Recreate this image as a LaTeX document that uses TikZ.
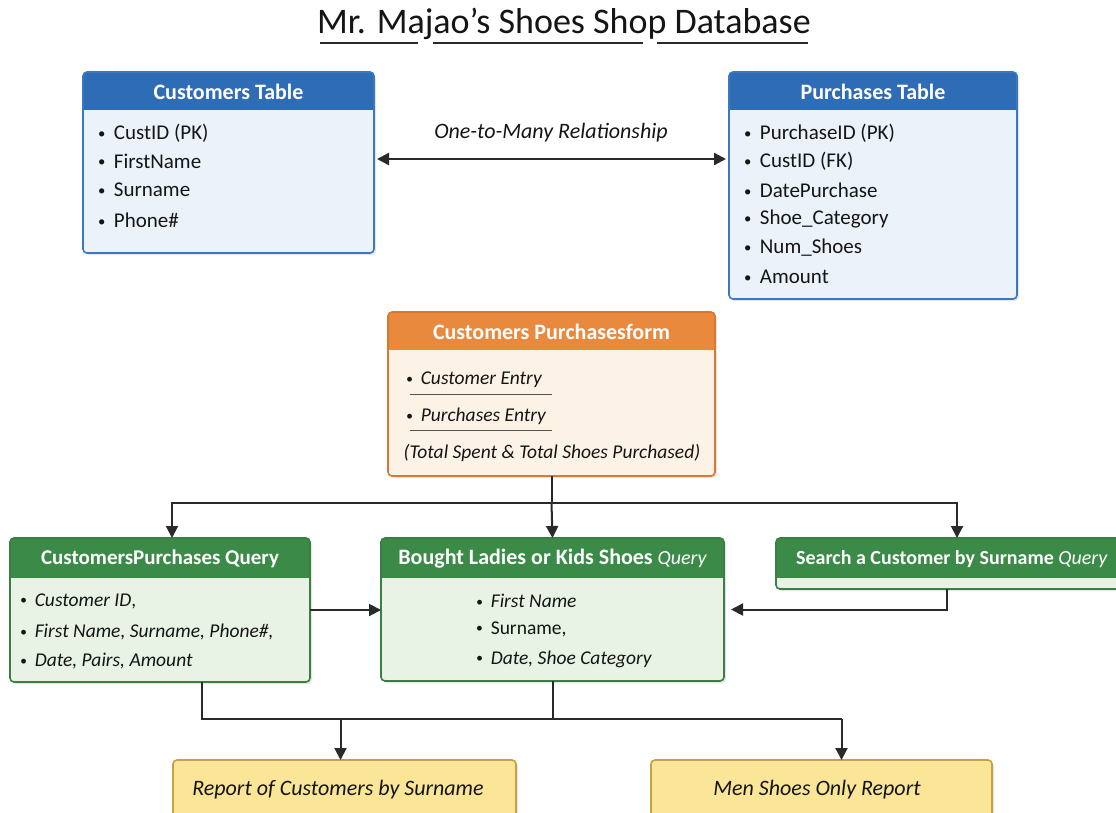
\documentclass[tikz,border=0pt]{standalone}
\usepackage{fontspec}
\usepackage{graphicx}
\setmainfont{Carlito}
\usetikzlibrary{arrows.meta,calc}
\definecolor{hblue}{HTML}{2F6CB6}
\definecolor{bblue}{HTML}{EBF2FA}
\definecolor{kblue}{HTML}{3C78C0}
\definecolor{horange}{HTML}{E8893E}
\definecolor{borange}{HTML}{FDF2E6}
\definecolor{korange}{HTML}{D47A33}
\definecolor{hgreen}{HTML}{3C8A48}
\definecolor{bgreen}{HTML}{E8F3E5}
\definecolor{kgreen}{HTML}{3A7E44}
\definecolor{byellow}{HTML}{FBE597}
\definecolor{kyellow}{HTML}{C6A142}
\definecolor{lineC}{HTML}{2A2A2A}
\definecolor{txt}{HTML}{151515}
\newcommand\bul{\raisebox{0.12ex}{\scalebox{0.7}{•}}\hspace{0.4em}}
\newcommand\tbox[9]{%
  \node[anchor=north west, minimum width=#4pt, minimum height=#5pt, inner sep=0pt, outer sep=0pt] (#1) at (#2,#3) {};
  \fill[black!10, rounded corners=4pt] ([shift={(2pt,-2pt)}]#1.north west) rectangle ([shift={(2pt,-2pt)}]#1.south east);
  \begin{scope}
    \clip[rounded corners=4pt] (#1.north west) rectangle (#1.south east);
    \fill[#8] (#1.north west) rectangle (#1.south east);
    \fill[#7] (#1.north west) rectangle ([yshift=-#6pt]#1.north east);
  \end{scope}
  \draw[#9, line width=1.6pt, rounded corners=4pt] (#1.north west) rectangle (#1.south east);
}
\tikzset{
  arr/.style={draw=lineC, line width=2pt, -{Triangle[length=12pt,width=12pt]}},
  darr/.style={draw=lineC, line width=2.4pt, {Triangle[length=12pt,width=12pt]}-{Triangle[length=12pt,width=12pt]}},
  ln/.style={draw=lineC, line width=2pt},
  itm/.style={anchor=west, inner sep=0pt, text=txt, font=\fontsize{21}{24}\selectfont},
  qitm/.style={anchor=west, inner sep=0pt, text=txt, font=\fontsize{19.5}{23}\selectfont\itshape},
  hd/.style={inner sep=0pt, text=white, font=\fontsize{22}{25}\selectfont\bfseries},
}
\begin{document}
\begin{tikzpicture}[x=1pt,y=-1pt]
\clip (0,0) rectangle (1116,812);
\fill[white] (0,0) rectangle (1116,812);

% title
\node[inner sep=0pt, text=txt, font=\fontsize{36}{40}\selectfont] (title) at (564,24) {Mr. Majao’s Shoes Shop Database};
\draw[lineC, line width=1.4pt] (320,43) -- (418,43) (433,43) -- (643,43) (657,43) -- (808,43);

% Customers table
\tbox{cust}{83}{72}{291}{181}{38}{hblue}{bblue}{kblue}
\node[hd] (custh) at ([yshift=-20pt]cust.north) {Customers Table};
\node[itm] (c1) at (98,133) {\bul CustID (PK)};
\node[itm] (c2) at (98,161) {\bul FirstName};
\node[itm] (c3) at (98,190) {\bul Surname};
\node[itm] (c4) at (98,220) {\bul Phone\#};

% Purchases table
\tbox{purch}{729}{72}{288}{227}{38}{hblue}{bblue}{kblue}
\node[hd] (purchh) at ([yshift=-20pt]purch.north) {Purchases Table};
\node[itm] (p1) at (744,133) {\bul PurchaseID (PK)};
\node[itm] (p2) at (744,161) {\bul CustID (FK)};
\node[itm] (p3) at (744,190) {\bul DatePurchase};
\node[itm] (p4) at (744,219) {\bul Shoe\_Category};
\node[itm] (p5) at (744,248) {\bul Num\_Shoes};
\node[itm] (p6) at (744,277) {\bul Amount};

% relationship
\draw[darr] ([shift={(3pt,-87pt)}]cust.north east) -- ([shift={(-3pt,-87pt)}]purch.north west);
\node[inner sep=0pt, text=txt, font=\fontsize{22}{25}\selectfont\itshape] (rel) at (551,133) {One-to-Many Relationship};

% Form
\tbox{form}{388}{312}{327}{164}{38}{horange}{borange}{korange}
\node[hd] (formh) at ([yshift=-20pt]form.north) {Customers Purchasesform};
\node[qitm] (f1) at (406,380) {\bul Customer Entry};
\node[qitm] (f2) at (406,416) {\bul Purchases Entry};
\draw[lineC!80, line width=1pt] (410,394) -- (552,394) (410,430) -- (552,430);
\node[inner sep=0pt, text=txt, font=\fontsize{19.5}{23}\selectfont\itshape] (f3) at (552,453) {(Total Spent \& Total Shoes Purchased)};

% Queries
\tbox{q1}{10}{538}{300}{144}{40}{hgreen}{bgreen}{kgreen}
\node[hd, font=\fontsize{21}{24}\selectfont\bfseries] (q1h) at ([yshift=-21pt]q1.north) {CustomersPurchases Query};
\node[qitm] (q11) at (20,601) {\bul Customer ID\textup{,}};
\node[qitm] (q12) at (20,632) {\bul First Name, Surname, Phone\#,};
\node[qitm] (q13) at (20,661) {\bul Date, Pairs, Amount};

\tbox{q2}{381}{538}{343}{143}{40}{hgreen}{bgreen}{kgreen}
\node[hd] (q2h) at ([yshift=-21pt]q2.north) {Bought Ladies or Kids Shoes {\mdseries\itshape\fontsize{20}{22}\selectfont Query}};
\node[qitm] (q21) at (476,601) {\bul First Name};
\node[qitm, font=\fontsize{19.5}{23}\selectfont] (q22) at (476,629) {\bul Surname,};
\node[qitm] (q23) at (476,659) {\bul Date, Shoe Category};

\tbox{q3}{776}{538}{370}{51}{40}{hgreen}{bgreen}{kgreen}
\node[hd, anchor=west, font=\fontsize{20}{24}\selectfont\bfseries] (q3h) at (796,559) {Search a Customer by Surname {\mdseries\itshape Query}};

% Reports
\tbox{r1}{173}{760}{343}{80}{0}{byellow}{byellow}{kyellow}
\node[inner sep=0pt, text=txt, font=\fontsize{22}{25}\selectfont\itshape] (r1t) at (338,790) {Report of Customers by Surname};
\tbox{r2}{651}{760}{341}{80}{0}{byellow}{byellow}{kyellow}
\node[inner sep=0pt, text=txt, font=\fontsize{22}{25}\selectfont\itshape] (r2t) at (817,790) {Men Shoes Only Report};

% connectors
\coordinate (hj) at (555,503);
\draw[arr] (form.south) -- (form.south |- hj) -| ([xshift=12pt]q1.north);
\draw[arr] (form.south |- hj) -| ([xshift=-4pt]q3.north);
\draw[arr] (form.south |- hj) -- (q2.north);
\draw[arr] (q1.east) -- (q2.west |- q1.east);
\draw[arr] ([xshift=-14pt]q3.south) |- ([xshift=7pt]q2.east);

\coordinate (hb) at (555,719);
\draw[ln] ([xshift=42pt]q1.south) |- ([xshift=20pt]r2.north |- hb);
\draw[ln] (q2.south) -- (q2.south |- hb);
\draw[arr] ([xshift=-4pt]r1.north |- hb) -- ([xshift=-4pt]r1.north);
\draw[arr] ([xshift=20pt]r2.north |- hb) -- ([xshift=20pt]r2.north);
\end{tikzpicture}
\end{document}
